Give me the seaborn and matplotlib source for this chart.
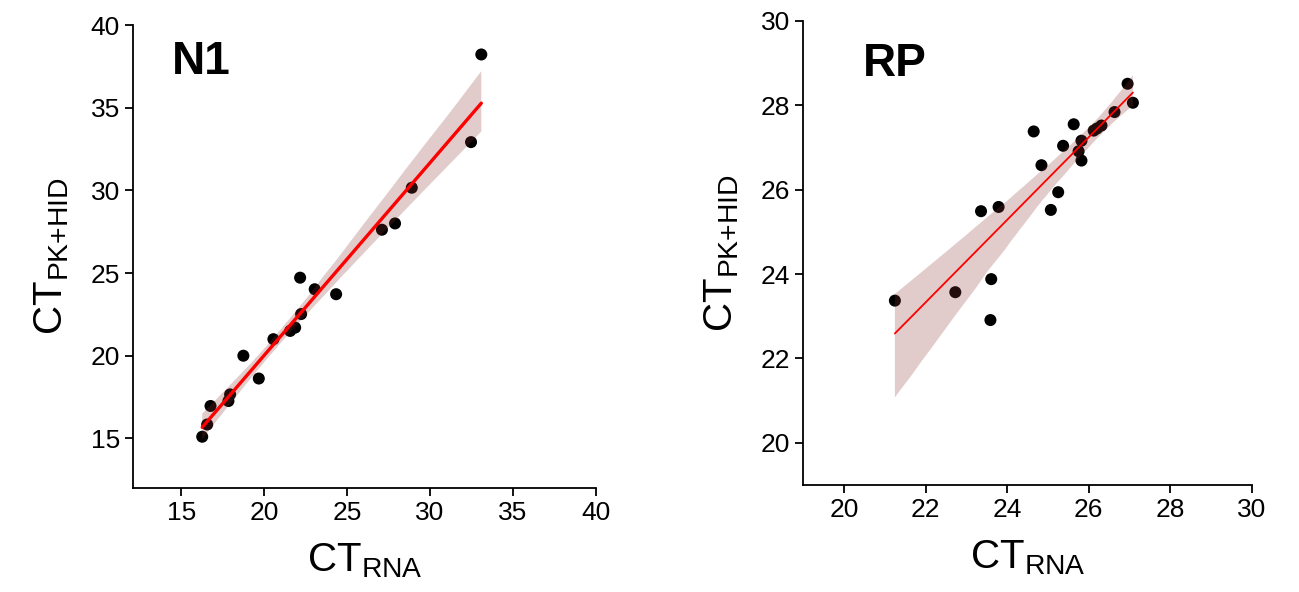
import numpy as np
import pandas as pd
import matplotlib
matplotlib.use("Agg")
import matplotlib.pyplot as plt
import seaborn as sns

# CT values
n1_rna = [16.27, 16.57, 16.77, 17.85, 17.95, 18.75, 19.68, 20.56, 21.57, 21.87,
          22.23, 22.17, 23.05, 24.34, 27.10, 27.89, 28.90, 32.47, 33.09]
n1_pk = [15.10, 15.84, 16.96, 17.26, 17.66, 20.00, 18.62, 21.00, 21.50, 21.70,
         22.52, 24.72, 24.02, 23.72, 27.62, 28.00, 30.16, 32.92, 38.22]

rp_rna = [21.25, 22.73, 23.36, 23.79, 23.61, 23.59, 24.65, 24.84, 25.07, 25.25,
          25.37, 25.63, 25.75, 25.82, 25.82, 26.12, 26.20, 26.31, 26.63, 26.95, 27.08]
rp_pk = [23.37, 23.57, 25.49, 25.59, 23.88, 22.91, 27.38, 26.58, 25.52, 25.94,
         27.04, 27.55, 26.91, 27.16, 26.69, 27.40, 27.45, 27.52, 27.84, 28.51, 28.06]

n1 = pd.DataFrame({"rna": n1_rna, "pk": n1_pk})
rp = pd.DataFrame({"rna": rp_rna, "pk": rp_pk})

sns.set_style("ticks")
plt.rcParams["font.family"] = ["Liberation Sans", "DejaVu Sans"]
plt.rcParams["mathtext.fontset"] = "custom"
plt.rcParams["mathtext.rm"] = "Liberation Sans"
plt.rcParams["text.color"] = "black"
plt.rcParams["axes.labelcolor"] = "black"

fig = plt.figure(figsize=(12.99, 5.92), dpi=100)
ax1 = fig.add_axes([0.1024, 0.1757, 0.3564, 0.782])
ax2 = fig.add_axes([0.6182, 0.1807, 0.3457, 0.784])

band_color = (139 / 255, 51 / 255, 51 / 255)

panels = [
    (ax1, n1, "N1", (12.1, 40), (12, 40), [15, 20, 25, 30, 35, 40], [15, 20, 25, 30, 35, 40], 2.4, (0.084, 0.968)),
    (ax2, rp, "RP", (19, 30), (19, 30), [20, 22, 24, 26, 28, 30], [20, 22, 24, 26, 28, 30], 1.3, (0.134, 0.955)),
]

for ax, df, name, xlim, ylim, xt, yt, lw, tpos in panels:
    sns.scatterplot(data=df, x="rna", y="pk", color="black", s=75,
                    edgecolor="none", ax=ax, zorder=1)
    sns.regplot(data=df, x="rna", y="pk", scatter=False, color=band_color,
                line_kws={"color": "red", "lw": lw}, ax=ax, seed=1)
    # band takes the line colour by default; recolour it
    for coll in ax.collections[1:]:
        coll.set_facecolor(band_color)
        coll.set_edgecolor("none")
        coll.set_alpha(0.25)
    ax.set_xlim(*xlim)
    ax.set_ylim(*ylim)
    ax.set_xticks(xt)
    ax.set_yticks(yt)
    ax.tick_params(labelsize=19, length=6, width=1.3, direction="out", colors="black")
    for s in ["left", "bottom"]:
        ax.spines[s].set_linewidth(1.3)
        ax.spines[s].set_color("black")
    sns.despine(ax=ax)
    ax.set_xlabel(r"CT$_{\mathrm{RNA}}$", fontsize=29, labelpad=12)
    ax.set_ylabel(r"CT$_{\mathrm{PK{+}HID}}$", fontsize=29, labelpad=14)
    ax.text(tpos[0], tpos[1], name, transform=ax.transAxes, fontsize=33,
            fontweight="bold", va="top", ha="left", color="black")

plt.savefig("out.png", dpi=100)
